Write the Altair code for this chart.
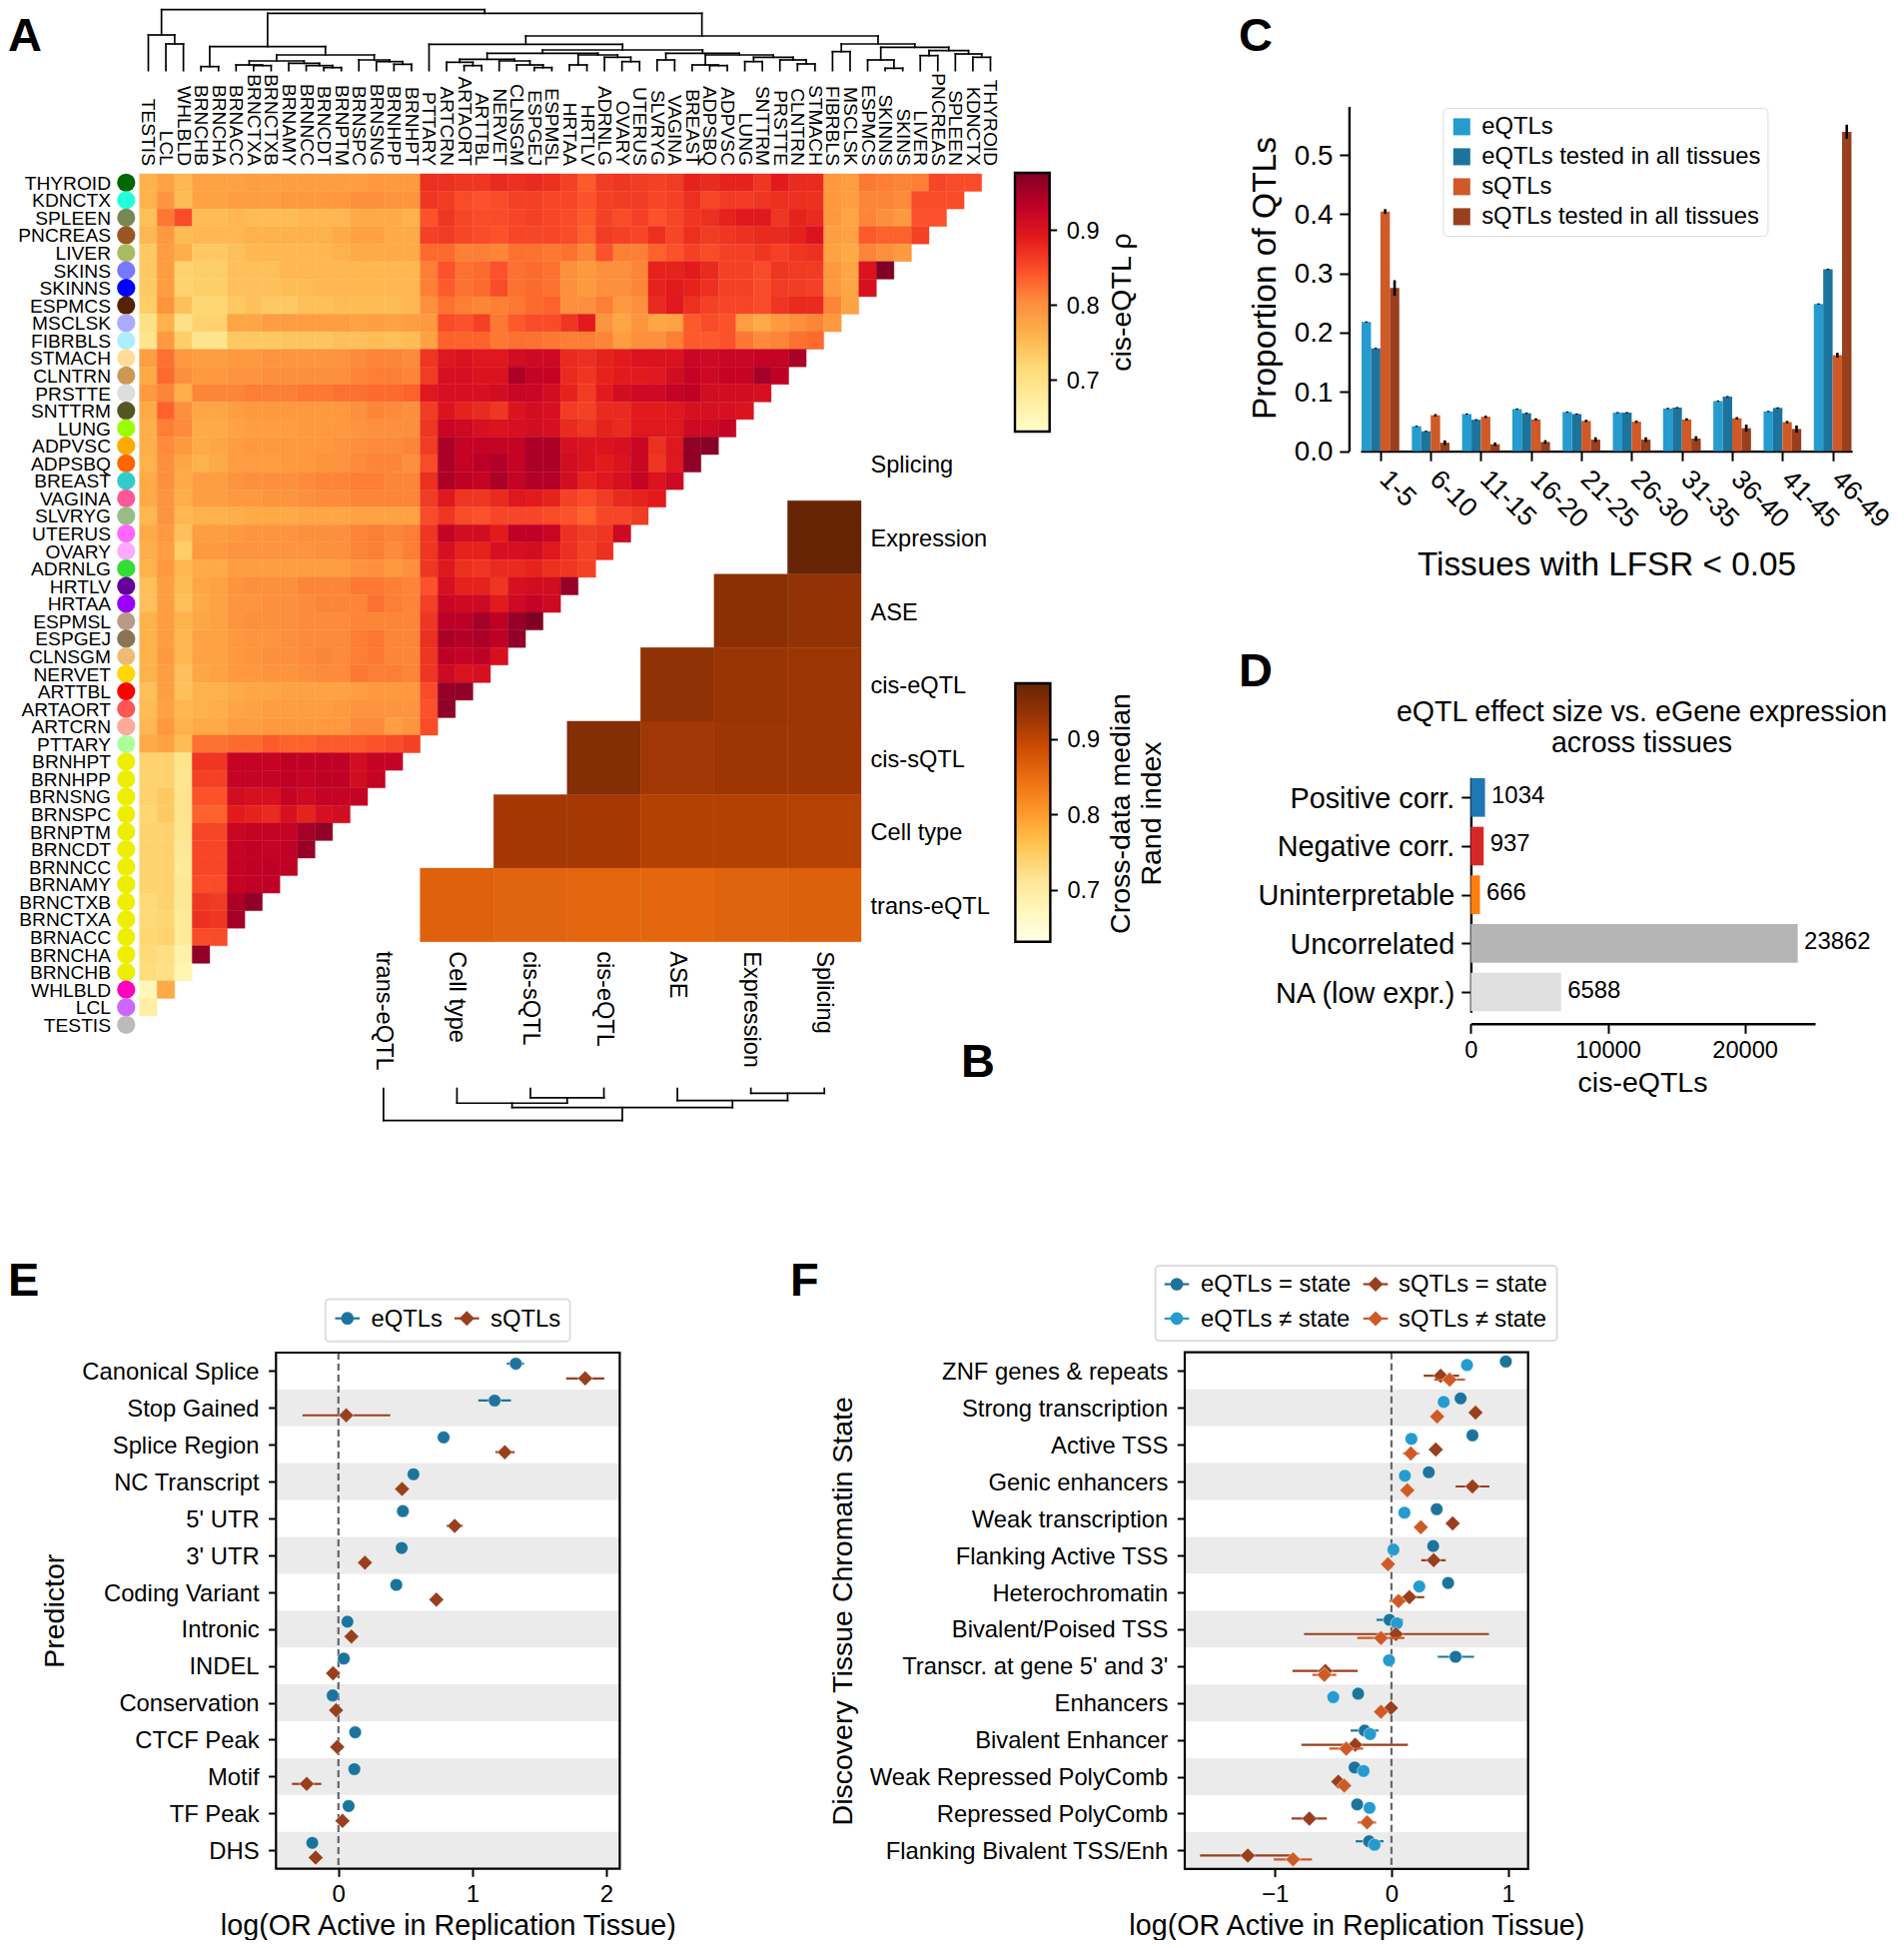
import json
import altair as alt
import pandas as pd

W, H = 1890, 1934
FONT = "Liberation Sans"

# ---------------------------------------------------------------- panel A data
tissues_top_down = ["THYROID","KDNCTX","SPLEEN","PNCREAS","LIVER","SKINS","SKINNS","ESPMCS","MSCLSK","FIBRBLS",
    "STMACH","CLNTRN","PRSTTE","SNTTRM","LUNG","ADPVSC","ADPSBQ","BREAST","VAGINA","SLVRYG","UTERUS","OVARY",
    "ADRNLG","HRTLV","HRTAA","ESPMSL","ESPGEJ","CLNSGM","NERVET","ARTTBL","ARTAORT","ARTCRN","PTTARY","BRNHPT",
    "BRNHPP","BRNSNG","BRNSPC","BRNPTM","BRNCDT","BRNNCC","BRNAMY","BRNCTXB","BRNCTXA","BRNACC","BRNCHA","BRNCHB",
    "WHLBLD","LCL","TESTIS"]
tissue_colors = ["#006600","#22FFDD","#778855","#995522","#AABB66","#7777FF","#0000FF","#552200","#AAAAFF","#AAEEFF",
    "#FFDD99","#CC9955","#DDDDDD","#555522","#99FF00","#FFAA00","#FF6600","#33CCCC","#FF5599","#99BB88","#FF66FF","#FFAAFF",
    "#33DD33","#660099","#9900FF","#BB9988","#8B7355","#EEBB77","#FFD700","#FF0000","#FF5555","#FFAA99","#AAFF99","#EEEE00",
    "#EEEE00","#EEEE00","#EEEE00","#EEEE00","#EEEE00","#EEEE00","#EEEE00","#EEEE00","#EEEE00","#EEEE00","#EEEE00","#EEEE00",
    "#FF00BB","#CC66FF","#BBBBBB"]
tissues_left_right = tissues_top_down[::-1]

# rho x 1000, one row per tissue (top to bottom), columns left to right from TESTIS
rho_rows = [
 [760,780,755,780,780,780,785,785,785,785,785,785,785,790,790,790,875,875,870,870,880,875,880,875,860,840,865,870,865,860,865,885,880,885,885,870,890,880,880,790,785,820,815,810,815,855,850,850],
 [760,795,750,780,780,785,785,785,790,790,790,790,800,800,795,795,870,865,850,845,850,860,860,855,855,845,860,865,865,855,860,875,855,865,865,870,875,875,875,790,785,810,810,805,850,850,850],
 [745,820,850,750,750,755,750,750,750,755,755,755,770,770,770,760,845,870,855,850,850,855,860,855,850,840,860,850,860,845,855,870,875,885,895,895,870,885,880,790,775,810,800,790,845,845],
 [755,790,750,755,755,755,760,760,760,760,760,770,780,780,770,770,860,865,855,850,845,855,855,855,850,835,865,860,855,875,855,875,865,870,875,880,880,885,900,785,780,840,835,835,860],
 [735,785,765,735,735,745,755,755,755,755,755,760,770,770,770,770,830,830,815,815,810,825,825,820,825,810,845,815,815,835,845,860,850,860,860,870,860,870,875,780,770,810,800,790],
 [735,785,725,730,730,745,745,745,755,755,755,755,755,755,755,755,815,845,825,830,845,825,830,825,800,790,800,800,810,885,885,890,880,860,860,850,870,865,865,790,775,900,975],
 [735,785,725,730,730,745,745,745,750,750,755,755,755,755,755,755,815,840,825,830,850,825,830,825,800,790,800,800,810,885,890,885,875,860,860,850,865,865,860,790,775,905],
 [730,795,745,720,720,735,745,735,735,745,745,750,750,750,750,755,800,825,815,810,815,820,830,835,800,800,815,790,800,880,895,875,860,855,855,850,870,880,880,810,780],
 [700,760,700,725,725,775,775,785,785,785,785,785,780,785,780,785,790,850,845,860,820,840,850,850,870,890,795,775,795,775,780,840,850,845,785,770,790,800,810,790],
 [695,790,730,695,695,735,735,735,740,740,740,745,745,750,745,750,780,835,835,835,820,825,825,820,815,815,810,785,800,800,815,840,840,845,820,805,810,825,830],
 [785,825,790,785,785,790,790,795,795,795,795,795,805,810,810,805,870,895,900,895,895,910,915,915,880,875,885,890,900,900,900,920,915,920,920,925,925,945],
 [770,830,800,790,790,795,795,800,800,800,800,800,810,815,815,810,865,905,905,900,900,945,925,925,880,870,885,890,890,895,910,925,915,925,925,950,930],
 [790,810,765,810,810,810,815,815,815,820,820,825,825,830,830,835,895,905,905,905,910,920,920,910,885,865,890,910,915,915,925,930,910,910,910,905],
 [770,835,800,775,775,785,790,790,790,790,790,790,800,810,805,800,865,900,885,880,870,900,910,905,865,860,880,880,890,890,895,905,905,905,900],
 [765,815,805,770,770,780,785,785,785,790,790,790,795,800,800,800,870,920,915,905,900,905,910,905,880,870,885,880,895,895,895,915,915,925],
 [765,805,790,770,775,785,790,790,790,790,790,795,800,805,805,810,865,945,925,925,925,925,945,945,905,900,900,905,920,875,895,965,970],
 [760,800,775,760,770,785,785,785,790,790,795,795,805,810,810,800,850,945,925,935,940,925,945,945,910,900,890,900,920,870,895,965],
 [770,800,770,785,785,795,800,800,800,805,810,810,815,815,810,810,875,945,930,925,945,925,940,940,910,885,895,905,925,900,915],
 [770,795,765,785,785,790,790,795,795,800,805,805,810,810,810,810,865,895,870,870,880,895,890,885,860,850,865,880,885,890],
 [755,795,755,760,760,765,770,770,770,775,775,775,780,780,780,780,850,870,850,845,855,855,855,850,845,835,855,855,865],
 [770,790,745,785,785,790,795,795,795,800,800,800,810,815,810,815,870,925,910,910,890,930,930,920,875,865,870,915],
 [765,785,730,790,790,795,795,795,795,795,800,800,810,815,805,815,870,905,885,885,905,905,910,895,875,860,875],
 [760,790,755,770,770,785,785,785,785,785,785,785,795,800,790,800,870,895,875,870,880,880,885,875,870,860],
 [745,785,750,775,780,795,800,800,800,810,810,810,820,820,815,810,845,905,885,885,870,905,910,910,960],
 [745,785,745,770,780,795,795,800,800,805,810,810,810,825,815,810,860,920,915,915,890,915,925,915],
 [760,785,760,775,780,795,800,800,800,805,805,805,810,810,810,810,870,935,935,950,930,960,975],
 [760,785,755,780,780,790,795,795,800,805,805,805,815,820,810,810,875,945,940,945,930,965],
 [760,790,755,780,780,790,795,800,800,805,810,805,815,820,810,810,870,930,925,930,905],
 [760,785,745,775,780,790,790,795,795,800,805,805,820,815,815,810,870,915,900,905],
 [745,785,745,760,760,770,775,775,780,780,780,780,785,790,790,790,850,960,965],
 [750,780,755,760,765,775,780,785,785,785,785,790,795,795,795,795,845,965],
 [755,790,760,770,770,785,785,790,790,790,790,790,805,805,785,795,850],
 [770,780,750,825,825,830,830,840,835,835,840,840,840,845,850,860],
 [725,725,695,870,870,925,925,925,930,930,930,930,910,925,925],
 [725,725,690,860,860,925,925,925,930,925,930,930,910,925],
 [725,735,695,845,845,910,905,905,925,915,925,925,925],
 [720,735,695,835,835,890,885,880,905,885,905,910],
 [725,725,690,855,855,920,925,925,925,950,965],
 [725,725,685,855,855,925,930,925,930,960],
 [725,725,680,855,855,925,930,930,930],
 [725,725,685,850,850,925,930,930],
 [715,725,685,870,865,945,965],
 [715,720,680,875,870,950],
 [720,725,680,850,850],
 [715,705,665,965],
 [710,700,655],
 [650,770],
 [670],
]

# dendrogram over tissues: (merge height, left, right), leaves are left-to-right column numbers
tissue_tree = (183,
    (107, 0, (80, 1, 2)),
    (172,
     (72, (12, 3, 4),
      (47,
       (29, (17, 5, (15, 6, 7)), (22, 8, (15, 9, (9, 10, 11)))),
       (32, 12, (27, 13, (19, 14, 15))))),
     (104,
      (79, 16,
       (62,
        (52,
         (34, (25, 17, (15, 18, 19)), (29, 20, (17, 21, (9, 22, 23)))),
         (47, (17, 24, 25), (40, 26, (27, 27, 28)))),
        (52,
         (32, 29, 30),
         (47, (17, 31, (15, 32, 33)),
          (40, (27, 34, 35), (32, 36, (20, 37, 38))))))),
      (80,
       (57, 39, 40),
       (70,
        (32, 41, (7, 42, 43)),
        (60, (45, 44, 45), (50, 46, (40, 47, 48))))))))

# ---------------------------------------------------------------- panel B data
datasets_cols = ["trans-eQTL","Cell type","cis-sQTL","cis-eQTL","ASE","Expression","Splicing"]
datasets_rows = ["Splicing","Expression","ASE","cis-eQTL","cis-sQTL","Cell type","trans-eQTL"]
rand_rows = {
    "Expression": [973],
    "ASE": [943,936],
    "cis-eQTL": [939,931,929],
    "cis-sQTL": [948,925,927,927],
    "Cell type": [923,922,908,908,907],
    "trans-eQTL": [863,860,858,856,861,865],
}
dataset_tree = (72, 0, (43, (33, 1, (21, 2, 3)), (27, 4, (11, 5, 6))))

YLORRD = ["#ffffcc","#ffeda0","#fed976","#feb24c","#fd8d3c","#fc4e2a","#e31a1c","#bd0026","#800026"]
YLORBR = ["#ffffe5","#fff7bc","#fee391","#fec44f","#fe9929","#ec7014","#cc4c02","#993404","#662506"]

# ---------------------------------------------------------------- panel C data
bins = ["1-5","6-10","11-15","16-20","21-25","26-30","31-35","36-40","41-45","46-49"]
qtl_series = ["eQTLs","eQTLs tested in all tissues","sQTLs","sQTLs tested in all tissues"]
qtl_colors = ["#259BCF","#1C749D","#D05A27","#9A3F1D"]
eqtl_vals = [.218,.042,.0626,.071,.066,.065,.072,.0845,.067,.2484]
eqtl_all_vals = [.1735,.0335,.053,.064,.0626,.065,.0735,.092,.073,.307]
sqtl_vals = [.4045,.0606,.058,.0535,.051,.0497,.0535,.0555,.049,.162]
sqtl_all_vals = [.2755,.0142,.0116,.0155,.0194,.0194,.0213,.0387,.0374,.539]
eqtl_err = [.001]*10
eqtl_all_err = [.001]*10
sqtl_err = [.004,.002,.002,.002,.002,.002,.002,.002,.002,.004]
sqtl_all_err = [.013,.004,.003,.003,.004,.004,.004,.006,.006,.012]

# ---------------------------------------------------------------- panel D data
corr_names = ["Positive corr.","Negative corr.","Uninterpretable","Uncorrelated","NA (low expr.)"]
corr_vals = [1034,937,666,23862,6588]
corr_colors = ["#1F77B4","#D62728","#FF7F0E","#B5B5B5","#E0E0E0"]

# ---------------------------------------------------------------- panel E data
predictors = ["Canonical Splice","Stop Gained","Splice Region","NC Transcript","5' UTR","3' UTR","Coding Variant","Intronic","INDEL","Conservation","CTCF Peak","Motif","TF Peak","DHS"]
e_eqtl = [1.324,1.166,.785,.56,.481,.472,.432,.067,.04,-.043,.125,.119,.076,-.195]
e_eqtl_lo = [1.257,1.044,.755,.527,.451,.447,.402,.049,.018,-.067,.107,.097,.058,-.213]
e_eqtl_hi = [1.385,1.288,.815,.594,.511,.497,.462,.085,.061,-.018,.143,.14,.094,-.176]
e_sqtl = [1.842,.058,1.242,.475,.868,.198,.731,.097,-.04,-.018,-.009,-.237,.03,-.17]
e_sqtl_lo = [1.70,-.268,1.172,.441,.807,.167,.694,.076,-.07,-.049,-.046,-.347,0,-.198]
e_sqtl_hi = [1.985,.387,1.315,.508,.929,.228,.767,.119,-.009,.012,.027,-.128,.061,-.143]

# ---------------------------------------------------------------- panel F data
states = ["ZNF genes & repeats","Strong transcription","Active TSS","Genic enhancers","Weak transcription","Flanking Active TSS","Heterochromatin","Bivalent/Poised TSS","Transcr. at gene 5' and 3'","Enhancers","Bivalent Enhancer","Weak Repressed PolyComb","Repressed PolyComb","Flanking Bivalent TSS/Enh"]
f_e_eq = [.981,.593,.695,.32,.388,.358,.486,-.017,.55,-.286,-.23,-.316,-.294,-.192]
f_e_eq_lo = [.955,.57,.672,.296,.365,.335,.463,-.128,.397,-.312,-.35,-.34,-.318,-.307]
f_e_eq_hi = [1.007,.616,.718,.344,.411,.381,.509,.098,.708,-.26,-.111,-.292,-.27,-.068]
f_e_ne = [.648,.448,.171,.115,.111,.017,.239,.047,-.021,-.499,-.183,-.239,-.188,-.145]
f_e_ne_lo = [.625,.425,.148,.092,.088,-.006,.216,0,-.045,-.522,-.235,-.262,-.211,-.196]
f_e_ne_hi = [.671,.471,.194,.138,.134,.04,.262,.098,.004,-.476,-.132,-.216,-.165,-.094]
f_s_eq = [.422,.721,.38,.695,.525,.362,.154,.038,-.567,-.004,-.311,-.456,-.704,-1.232]
f_s_eq_lo = [.277,.695,.328,.55,.474,.256,.034,-.75,-.849,-.055,-.772,-.507,-.857,-1.642]
f_s_eq_hi = [.58,.747,.434,.84,.576,.465,.281,.836,-.29,.047,.141,-.405,-.554,-.827]
f_s_ne = [.499,.392,.166,.136,.252,-.03,.06,-.09,-.576,-.09,-.388,-.405,-.209,-.844]
f_s_ne_lo = [.367,.366,.098,.085,.205,-.073,-.017,-.294,-.678,-.141,-.533,-.456,-.29,-1.01]
f_s_ne_hi = [.631,.418,.239,.187,.299,.013,.128,.111,-.473,-.039,-.243,-.354,-.132,-.682]

# ================================================================= helpers
def PX(p):
    return p - 8

def qscale(dom, r0, r1):
    return alt.Scale(domain=dom, range=[PX(r0), PX(r1)], nice=False, zero=False)

def off_left(p):
    return -PX(p)

def off_right(p):
    return -(W - PX(p))

def off_top(p):
    return -PX(p)

def off_bottom(p):
    return -(H - PX(p))

def ramp(stops, lo, hi):
    n = len(stops) - 1
    return alt.Scale(domain=[lo + (hi - lo) * i / n for i in range(n + 1)], range=stops)

ONE = pd.DataFrame({"a": [0]})
layers = []

def label(text, x, y, size, align="left", baseline="alphabetic", weight="normal", angle=0, color="black"):
    layers.append(alt.Chart(ONE).mark_text(text=text, font=FONT, fontSize=size, align=align, baseline=baseline,
                                           fontWeight=weight, angle=angle, color=color)
                  .encode(x=alt.value(PX(x)), y=alt.value(PX(y))))

def box(x0, x1, y0, y1, **kw):
    layers.append(alt.Chart(ONE).mark_rect(**kw).encode(x=alt.value(PX(x0)), x2=alt.value(PX(x1)),
                                                        y=alt.value(PX(y0)), y2=alt.value(PX(y1))))

def walk(node, hs, vs):
    if isinstance(node, int):
        return node + 0.5, 0
    h, l, r = node
    xl, hl = walk(l, hs, vs)
    xr, hr = walk(r, hs, vs)
    hs.append({"x": xl, "x2": xr, "y": h})
    vs.append({"x": xl, "y": hl, "y2": h})
    vs.append({"x": xr, "y": hr, "y2": h})
    return (xl + xr) / 2, h

def dendrogram(tree, xs, ys, width):
    hs, vs = [], []
    walk(tree, hs, vs)
    layers.append(alt.Chart(pd.DataFrame(hs)).mark_rule(color="black", strokeWidth=width, strokeCap="square").encode(
        x=alt.X("x:Q", scale=xs, axis=None), x2="x2:Q", y=alt.Y("y:Q", scale=ys, axis=None)))
    layers.append(alt.Chart(pd.DataFrame(vs)).mark_rule(color="black", strokeWidth=width, strokeCap="square").encode(
        x=alt.X("x:Q", scale=xs, axis=None), y=alt.Y("y:Q", scale=ys, axis=None), y2="y2:Q"))

def colorbar(stops, x0, x1, ytop, ybot, vtop, vbot, title, title_x, title_y, line_height=None):
    grad = alt.LinearGradient(gradient="linear", x1=0, x2=0, y1=1, y2=0,
                              stops=[alt.GradientStop(color=c, offset=i / (len(stops) - 1)) for i, c in enumerate(stops)])
    df = pd.DataFrame({"lo": [vbot], "hi": [vtop]})
    axis_kw = dict(orient="right", offset=off_right(x1), values=[0.7, 0.8, 0.9], format=".1f", title=title,
                   domain=False, tickSize=7, tickWidth=2, tickColor="black", labelFontSize=23.6, labelPadding=9.5, labelOffset=1,
                   titleFontSize=28.5, titleAngle=270, titleAlign="center", titleBaseline="middle",
                   titleX=title_x - x1, titleY=PX(title_y))
    if line_height:
        axis_kw["titleLineHeight"] = line_height
    layers.append(alt.Chart(df).mark_rect(color=grad, stroke="black", strokeWidth=2.4).encode(
        x=alt.value(PX(x0)), x2=alt.value(PX(x1)),
        y=alt.Y("lo:Q", scale=qscale([vbot, vtop], ybot, ytop), axis=alt.Axis(**axis_kw)),
        y2="hi:Q"))

# ================================================================= panel A
cell_w = (982.7 - 139.7) / 48
x_a = alt.Scale(domain=tissues_left_right, range=[PX(139.7), PX(139.7 + 49 * cell_w)], paddingInner=0, paddingOuter=0)
y_a = alt.Scale(domain=tissues_top_down, range=[PX(174), PX(174 + 49 * cell_w)], paddingInner=0, paddingOuter=0)
heat_rows = []
for r, row in enumerate(rho_rows):
    for c, v in enumerate(row):
        heat_rows.append({"col": tissues_left_right[c], "row": tissues_top_down[r], "v": v / 1000})
rho_scale = ramp(YLORRD, 0.631, 0.976)
layers.append(alt.Chart(pd.DataFrame(heat_rows)).mark_rect(strokeWidth=0.4).encode(
    x=alt.X("col:N", scale=x_a, axis=alt.Axis(orient="top", offset=off_top(165.5), title=None, domain=False, ticks=False,
                                              labelAngle=90, labelAlign="right", labelBaseline="middle", labelFontSize=19.2,
                                              labelPadding=0, labelOverlap=False)),
    y=alt.Y("row:N", scale=y_a, axis=alt.Axis(orient="left", offset=off_left(110.5), title=None, domain=False, ticks=False,
                                              labelFontSize=19.2, labelPadding=0, labelOverlap=False, labelOffset=1)),
    color=alt.Color("v:Q", scale=rho_scale, legend=None),
    stroke=alt.Stroke("v:Q", scale=rho_scale, legend=None)))
layers.append(alt.Chart(pd.DataFrame({"row": tissues_top_down, "c": tissue_colors})).mark_point(
    filled=True, opacity=1, shape="circle", size=331).encode(
    x=alt.value(PX(126.3)), y=alt.Y("row:N", scale=y_a, axis=None), fill=alt.Fill("c:N", scale=None)))
dendrogram(tissue_tree, qscale([0, 49], 139.7, 139.7 + 49 * cell_w), qscale([0, 197], 212 / 3, 15 / 3), 1.7)
colorbar(YLORRD, 1016, 1050.7, 173, 432, 0.976, 0.631, "cis-eQTL \u03c1", 1122, 302)

# ================================================================= panel B
x_b = alt.Scale(domain=datasets_cols, range=[PX(420.7 - 73.6), PX(862)], paddingInner=0, paddingOuter=0)
y_b = alt.Scale(domain=datasets_rows, range=[PX(501.2 - 73.6), PX(942.7)], paddingInner=0, paddingOuter=0)
rand_cells = []
for rn, vals in rand_rows.items():
    for v, cn in zip(vals, datasets_cols[-len(vals):]):
        rand_cells.append({"col": cn, "row": rn, "v": v / 1000})
rand_scale = ramp(YLORBR, 0.631, 0.974)
layers.append(alt.Chart(pd.DataFrame(rand_cells)).mark_rect(strokeWidth=0.4).encode(
    x=alt.X("col:N", scale=x_b, axis=alt.Axis(orient="bottom", offset=off_bottom(942.7), title=None, domain=False, ticks=False,
                                              labelAngle=90, labelAlign="left", labelBaseline="middle", labelFontSize=23.6,
                                              labelPadding=9, labelOverlap=False)),
    y=alt.Y("row:N", scale=y_b, axis=alt.Axis(orient="right", offset=off_right(862), title=None, domain=False, ticks=False,
                                              labelFontSize=23.6, labelPadding=9, labelOverlap=False, labelOffset=2)),
    color=alt.Color("v:Q", scale=rand_scale, legend=None),
    stroke=alt.Stroke("v:Q", scale=rand_scale, legend=None)))
dendrogram(dataset_tree, qscale([0, 7], 420.7 - 73.6, 862), qscale([0, 100], 1089.5, 1089.5 + 100 / 2.24), 1.7)
colorbar(YLORBR, 1016.4, 1051.4, 684, 942.7, 0.974, 0.631, ["Cross-data median", "Rand index"], 1121.5, 814, 31)

# ================================================================= panel C
x_c = qscale([-0.3956, 9.386], 1362, 1854)
y_c = qscale([0, 0.582], 451.6, 106.4)
bar_w = 0.1875
c_bars, c_err = [], []
all_vals = [eqtl_vals, eqtl_all_vals, sqtl_vals, sqtl_all_vals]
all_errs = [eqtl_err, eqtl_all_err, sqtl_err, sqtl_all_err]
for k, s in enumerate(qtl_series):
    for g in range(len(bins)):
        x0 = g + (k - 2) * bar_w
        v = all_vals[k][g]
        c_bars.append({"x0": x0, "x1": x0 + bar_w, "y0": 0, "v": v, "series": s})
        c_err.append({"x": x0 + bar_w / 2, "lo": v - all_errs[k][g], "hi": v + all_errs[k][g]})
layers.append(alt.Chart(pd.DataFrame(c_bars)).mark_rect().encode(
    x=alt.X("x0:Q", scale=x_c, axis=alt.Axis(orient="bottom", offset=off_bottom(451.6), title="Tissues with LFSR < 0.05",
                                             values=list(range(len(bins))), labelExpr=json.dumps(bins) + "[datum.value]",
                                             labelAngle=45, labelAlign="left", labelBaseline="middle", labelOffset=3,
                                             labelPadding=14, labelFontSize=26.8, tickSize=9.6, tickWidth=2, domainWidth=2.4,
                                             domainColor="black", tickColor="black", titleFontSize=33.3, titleX=PX(1608),
                                             titleY=565 - 451.6, titleAlign="center", titleBaseline="middle", labelOverlap=False)),
    x2="x1:Q",
    y=alt.Y("y0:Q", scale=y_c, axis=alt.Axis(orient="left", offset=off_left(1350.4), title="Proportion of QTLs",
                                             values=[0, .1, .2, .3, .4, .5], format=".1f", labelFontSize=27.7, labelPadding=7, labelOffset=1,
                                             tickSize=9.6, tickWidth=2, domainWidth=2.4, domainColor="black", tickColor="black",
                                             titleFontSize=33.5, titleAngle=270, titleX=1266 - 1350.4, titleY=PX(278),
                                             titleAlign="center", titleBaseline="middle")),
    y2="v:Q",
    color=alt.Color("series:N", scale=alt.Scale(domain=qtl_series, range=qtl_colors),
                    legend=alt.Legend(orient="none", legendX=PX(1444.4), legendY=PX(108), title=None, symbolType="square",
                                      symbolSize=290, symbolStrokeWidth=0, labelFontSize=23.8, labelFont=FONT, fillColor="white",
                                      strokeColor="#dddddd", padding=7, cornerRadius=4, rowPadding=5, labelOffset=8,
                                      symbolOpacity=1, labelLimit=400))))
layers.append(alt.Chart(pd.DataFrame(c_err)).mark_rule(color="black", strokeWidth=2.6).encode(
    x=alt.X("x:Q", scale=x_c, axis=None), y=alt.Y("lo:Q", scale=y_c, axis=None), y2="hi:Q"))

# ================================================================= panel D
x_d = qscale([0, 25130], 1472.4, 1817)
y_d = qscale([-0.411, 4.417], 778.3, 1013.3)
d_df = pd.DataFrame({"i": list(range(5)), "top": [i - .397 for i in range(5)], "bot": [i + .397 for i in range(5)],
                     "zero": [0] * 5, "v": corr_vals, "c": corr_colors, "t": [str(v) for v in corr_vals]})
layers.append(alt.Chart(d_df).mark_rect().encode(
    x=alt.X("zero:Q", scale=x_d, axis=alt.Axis(orient="bottom", offset=off_bottom(1024.7), title="cis-eQTLs", values=[0, 10000, 20000],
                                               format="d", labelFontSize=23.6, labelPadding=5, tickSize=9.6, tickWidth=2,
                                               domainWidth=2.4, domainColor="black", tickColor="black", titleFontSize=28.5,
                                               titleX=PX(1644), titleY=1083 - 1024.7, titleAlign="center", titleBaseline="middle")),
    x2="v:Q",
    y=alt.Y("top:Q", scale=y_d, axis=None), y2="bot:Q",
    fill=alt.Fill("c:N", scale=None)))
layers.append(alt.Chart(d_df).mark_text(opacity=0, text=" ").encode(
    x=alt.value(0),
    y=alt.Y("i:Q", scale=y_d, axis=alt.Axis(orient="left", offset=off_left(1472.4), title=None, values=list(range(5)),
                                            labelExpr=json.dumps(corr_names) + "[datum.value]", labelFontSize=28.8, labelPadding=7,
                                            tickSize=9.6, tickWidth=2, domainWidth=2.4, domainColor="black", tickColor="black",
                                            labelOverlap=False, labelOffset=1))))
layers.append(alt.Chart(d_df).mark_text(align="left", baseline="middle", dx=6.5, dy=-1.5, font=FONT, fontSize=23.9, color="black").encode(
    x=alt.X("v:Q", scale=x_d, axis=None), y=alt.Y("i:Q", scale=y_d, axis=None), text="t:N"))
label("eQTL effect size vs. eGene expression", 1643.5, 713, 28.6, align="center", baseline="middle")
label("across tissues", 1643.5, 743.7, 28.6, align="center", baseline="middle")

# ================================================================= panels E and F
def forest(names, ax_x, fx0, fx1, fy0, fy1, xvals, series, ylabel, ytitle_x):
    xs = qscale([ax_x[0], ax_x[1]], fx0, fx1)
    ys = qscale([0, len(names)], fy0, fy1)
    stripes = pd.DataFrame({"top": [i for i in range(1, len(names), 2)], "bot": [i + 1 for i in range(1, len(names), 2)],
                            "l": ax_x[0], "r": ax_x[1]})
    layers.append(alt.Chart(stripes).mark_rect(color="#EBEBEB").encode(
        x=alt.X("l:Q", scale=xs, axis=alt.Axis(orient="bottom", offset=off_bottom(fy1), title="log(OR Active in Replication Tissue)",
                                               values=xvals, format="d", labelFontSize=24, labelPadding=6, tickSize=7.7, tickWidth=2,
                                               domain=False, tickColor="black", titleFontSize=28.7,
                                               titleX=PX((fx0 + fx1) / 2), titleY=1927 - fy1, titleAlign="center", titleBaseline="middle")),
        x2="r:Q",
        y=alt.Y("top:Q", scale=ys, axis=alt.Axis(orient="left", offset=off_left(fx0), title=ylabel,
                                                 values=[i + .5 for i in range(len(names))],
                                                 labelExpr=json.dumps(names) + "[floor(datum.value)]", labelFontSize=23.8, labelPadding=9.5,
                                                 labelOffset=1.2, tickSize=7.7, tickWidth=2, domain=False, tickColor="black", titleFontSize=28.5,
                                                 titleAngle=270, titleX=ytitle_x - fx0, titleY=PX((fy0 + fy1) / 2),
                                                 titleAlign="center", titleBaseline="middle", labelOverlap=False)),
        y2="bot:Q"))
    layers.append(alt.Chart(pd.DataFrame({"z": [0]})).mark_rule(color="#666666", strokeWidth=2.2, strokeDash=[7, 4]).encode(
        x=alt.X("z:Q", scale=xs, axis=None), y=alt.value(PX(fy0)), y2=alt.value(PX(fy1))))
    for vals, lo, hi, off, col, shape, size in series:
        df = pd.DataFrame({"y": [i + .5 + off for i in range(len(names))], "v": vals, "lo": lo, "hi": hi})
        layers.append(alt.Chart(df).mark_rule(color=col, strokeWidth=2.2).encode(
            x=alt.X("lo:Q", scale=xs, axis=None), x2="hi:Q", y=alt.Y("y:Q", scale=ys, axis=None)))
        layers.append(alt.Chart(df).mark_point(filled=True, opacity=1, shape=shape, size=size, fill=col, stroke="white", strokeWidth=0.5).encode(
            x=alt.X("v:Q", scale=xs, axis=None), y=alt.Y("y:Q", scale=ys, axis=None)))
    box(fx0, fx1, fy0, fy1, fillOpacity=0, stroke="black", strokeWidth=2.2)

def legend_entry(cx, cy, half, col, shape, size, text, tx):
    layers.append(alt.Chart(ONE).mark_rule(color=col, strokeWidth=2.2).encode(
        x=alt.value(PX(cx - half)), x2=alt.value(PX(cx + half)), y=alt.value(PX(cy))))
    layers.append(alt.Chart(ONE).mark_point(filled=True, opacity=1, shape=shape, size=size, fill=col).encode(
        x=alt.value(PX(cx)), y=alt.value(PX(cy))))
    label(text, tx, cy + 0.8, 23.8, baseline="middle")

E_DARK, S_DARK, E_LIGHT, S_LIGHT = qtl_colors[1], qtl_colors[3], qtl_colors[0], qtl_colors[2]
CIRC, DIAM = 160, 225

forest(predictors, (-0.466, 2.1), 276.3, 620.4, 1354, 1870.6, [0, 1, 2],
       [(e_eqtl, e_eqtl_lo, e_eqtl_hi, -0.2, E_DARK, "circle", CIRC),
        (e_sqtl, e_sqtl_lo, e_sqtl_hi, 0.2, S_DARK, "diamond", DIAM)],
       "Predictor", 55)
box(325.7, 570.6, 1300.5, 1342.8, fill="white", stroke="#dddddd", strokeWidth=2, cornerRadius=4)
legend_entry(347.8, 1319.7, 12.3, E_DARK, "circle", CIRC, "eQTLs", 371.4)
legend_entry(467.3, 1319.7, 12.3, S_DARK, "diamond", DIAM, "sQTLs", 491)

forest(states, (-1.773, 1.172), 1186, 1529.7, 1353.7, 1870.9, [-1, 0, 1],
       [(f_e_eq, f_e_eq_lo, f_e_eq_hi, -0.25, E_DARK, "circle", CIRC),
        (f_e_ne, f_e_ne_lo, f_e_ne_hi, -0.155, E_LIGHT, "circle", CIRC),
        (f_s_eq, f_s_eq_lo, f_s_eq_hi, 0.135, S_DARK, "diamond", DIAM),
        (f_s_ne, f_s_ne_lo, f_s_ne_hi, 0.24, S_LIGHT, "diamond", DIAM)],
       "Discovery Tissue Chromatin State", 843.7)
box(1156.6, 1558.6, 1267, 1342.3, fill="white", stroke="#dddddd", strokeWidth=2, cornerRadius=4)
legend_entry(1178, 1285.5, 12.3, E_DARK, "circle", CIRC, "eQTLs = state", 1202)
legend_entry(1178, 1319.9, 12.3, E_LIGHT, "circle", CIRC, "eQTLs \u2260 state", 1202)
legend_entry(1377, 1285.5, 12.3, S_DARK, "diamond", DIAM, "sQTLs = state", 1400)
legend_entry(1377, 1319.9, 12.3, S_LIGHT, "diamond", DIAM, "sQTLs \u2260 state", 1400)

# ================================================================= panel letters
for ch, x, y in [("A", 8, 50.5), ("B", 962, 1078), ("C", 1240, 50.5), ("D", 1240, 687), ("E", 8, 1297), ("F", 791, 1297)]:
    label(ch, x, y, 47, weight="bold")

chart = alt.layer(*layers).resolve_scale(
    x="independent", y="independent", color="independent", stroke="independent", fill="independent"
).resolve_axis(x="independent", y="independent").properties(
    width=W, height=H, padding=0, autosize=alt.AutoSizeParams(type="none")
).configure_view(strokeWidth=0).configure_axis(
    grid=False, labelFont=FONT, titleFont=FONT, titleFontWeight="normal", labelColor="black", titleColor="black",
    labelLimit=1000, titleLimit=1000, labelFlush=False
).configure_legend(labelColor="black")

chart.save("out.html", embed_options={"renderer": "svg", "actions": False})
